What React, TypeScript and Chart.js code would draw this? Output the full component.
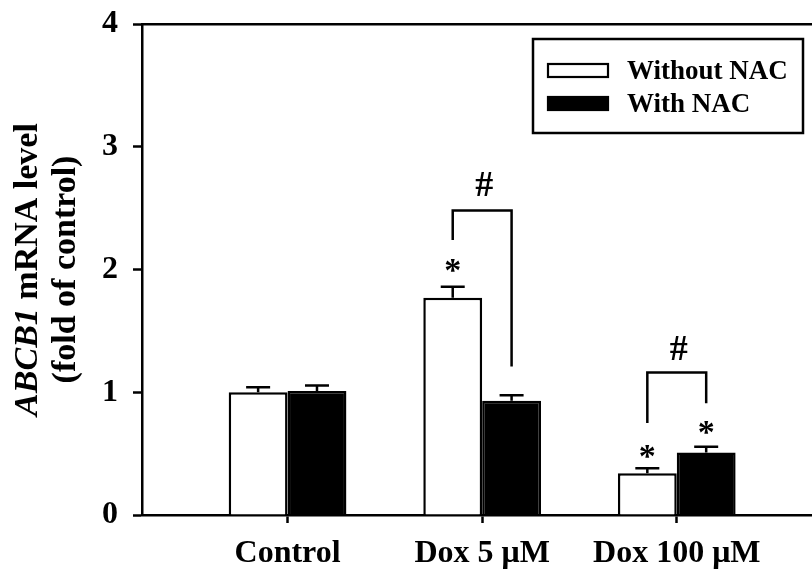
import React, { useEffect, useRef } from 'react';
import { Chart, registerables } from 'chart.js';

Chart.register(...registerables);

const categories = ['Control', 'Dox 5 μM', 'Dox 100 μM'];
const seriesLabels = ['Without NAC', 'With NAC'];
const withoutNAC = [1.0, 1.77, 0.34];
const withoutNACErr = [0.04, 0.09, 0.04];
const withNAC = [1.01, 0.93, 0.51];
const withNACErr = [0.045, 0.045, 0.045];
const yTicks = [0, 1, 2, 3, 4];
const yMin = 0;
const yMax = 4;
const yTitleItalic = 'ABCB1';
const yTitleRest = ' mRNA level';
const yTitleLine2 = '(fold of control)';

// significance marks: "*" vs control
const starSeries = [0, 0, 1];
const starCategory = [1, 2, 2];
const starY = [2.02, 0.5, 0.7];
// "#" brackets between Without and With NAC
const bracketCategory = [1, 2];
const bracketLeftBottom = [2.24, 0.75];
const bracketTop = [2.48, 1.16];
const bracketRightBottom = [1.21, 0.91];
const hashY = [2.675, 1.34];

const FONT = '"Liberation Serif", "Times New Roman", serif';

const annotationsPlugin = {
  id: 'annotations',
  afterDatasetsDraw(chart: any) {
    const ctx = chart.ctx;
    const y = chart.scales.y;
    const area = chart.chartArea;
    const metas = [chart.getDatasetMeta(0), chart.getDatasetMeta(1)];
    const errs = [withoutNACErr, withNACErr];
    const vals = [withoutNAC, withNAC];
    ctx.save();
    ctx.strokeStyle = '#000';
    ctx.fillStyle = '#000';
    ctx.lineWidth = 2.5;
    ctx.lineCap = 'butt';
    // error bars (upper only)
    for (let s = 0; s < 2; s++) {
      metas[s].data.forEach((bar: any, j: number) => {
        const top = y.getPixelForValue(vals[s][j] + errs[s][j]);
        ctx.beginPath();
        ctx.moveTo(bar.x, bar.y);
        ctx.lineTo(bar.x, top);
        ctx.moveTo(bar.x - 12, top);
        ctx.lineTo(bar.x + 12, top);
        ctx.stroke();
      });
    }
    // stars
    ctx.font = `bold 34px ${FONT}`;
    ctx.textAlign = 'center';
    ctx.textBaseline = 'middle';
    starY.forEach((v, k) => {
      const bar = metas[starSeries[k]].data[starCategory[k]];
      ctx.fillText('*', bar.x, y.getPixelForValue(v) + 5);
    });
    // brackets
    bracketCategory.forEach((c, k) => {
      const xl = metas[0].data[c].x;
      const xr = metas[1].data[c].x;
      ctx.beginPath();
      ctx.moveTo(xl, y.getPixelForValue(bracketLeftBottom[k]));
      ctx.lineTo(xl, y.getPixelForValue(bracketTop[k]));
      ctx.lineTo(xr, y.getPixelForValue(bracketTop[k]));
      ctx.lineTo(xr, y.getPixelForValue(bracketRightBottom[k]));
      ctx.stroke();
      ctx.font = `bold 36px ${FONT}`;
      ctx.fillText('#', (xl + xr) / 2 + 2, y.getPixelForValue(hashY[k]));
    });
    // legend box
    const lx = area.right - 279;
    const ly = area.top + 15;
    ctx.lineWidth = 2.5;
    ctx.strokeRect(lx, ly, 270, 94);
    const colors = ['#ffffff', '#000000'];
    const rowsY = [ly + 31, ly + 64];
    seriesLabels.forEach((lab, k) => {
      const sy = rowsY[k] - 7;
      ctx.fillStyle = colors[k];
      ctx.fillRect(lx + 14, sy, 62, 15);
      ctx.lineWidth = 2.2;
      ctx.strokeRect(lx + 15, sy + 1, 60, 13);
      ctx.fillStyle = '#000';
      ctx.font = `bold 27px ${FONT}`;
      ctx.textAlign = 'left';
      ctx.textBaseline = 'alphabetic';
      ctx.fillText(lab, lx + 94, rowsY[k] + 9);
    });
    // y title
    const cy = (area.top + area.bottom) / 2;
    ctx.font = `italic bold 34px ${FONT}`;
    const w1 = ctx.measureText(yTitleItalic).width;
    ctx.font = `bold 34px ${FONT}`;
    const w2 = ctx.measureText(yTitleRest).width;
    const total = w1 + w2;
    ctx.save();
    ctx.translate(37, cy);
    ctx.rotate(-Math.PI / 2);
    ctx.textAlign = 'left';
    ctx.textBaseline = 'alphabetic';
    ctx.font = `italic bold 34px ${FONT}`;
    ctx.fillText(yTitleItalic, -total / 2, 0);
    ctx.font = `bold 34px ${FONT}`;
    ctx.fillText(yTitleRest, -total / 2 + w1, 0);
    ctx.restore();
    ctx.save();
    ctx.translate(75, cy);
    ctx.rotate(-Math.PI / 2);
    ctx.textAlign = 'center';
    ctx.textBaseline = 'alphabetic';
    ctx.font = `bold 34px ${FONT}`;
    ctx.fillText(yTitleLine2, 0, 0);
    ctx.restore();
    ctx.restore();
  },
};

export default function App() {
  const canvasRef = useRef<HTMLCanvasElement | null>(null);

  useEffect(() => {
    if (!canvasRef.current) return;
    const xMin = -0.748;
    const xMax = 2.695;
    const chart = new Chart(canvasRef.current, {
      type: 'bar',
      data: {
        datasets: [
          {
            label: seriesLabels[0],
            data: withoutNAC.map((v, i) => ({ x: i, y: v })),
            backgroundColor: '#ffffff',
            borderColor: '#000000',
            borderWidth: 2.5,
            categoryPercentage: 0.605,
            barPercentage: 1.0,
          },
          {
            label: seriesLabels[1],
            data: withNAC.map((v, i) => ({ x: i, y: v })),
            backgroundColor: '#000000',
            borderColor: '#000000',
            borderWidth: 2.5,
            categoryPercentage: 0.605,
            barPercentage: 1.0,
          },
        ],
      },
      options: {
        animation: false,
        responsive: false,
        maintainAspectRatio: false,
        events: [],
        layout: { padding: 0 },
        plugins: { legend: { display: false }, tooltip: { enabled: false } },
        scales: {
          x: {
            type: 'linear',
            position: 'bottom',
            min: xMin,
            max: xMax,
            offset: false,
            afterBuildTicks: (s: any) => {
              s.ticks = categories.map((_, i) => ({ value: i }));
            },
            afterFit: (s: any) => {
              s.height = 57;
            },
            ticks: {
              callback: (v: any) => categories[v] ?? '',
              font: { family: FONT, size: 32, weight: 'bold' },
              color: '#000',
              padding: 12,
              maxRotation: 0,
              autoSkip: false,
            },
            grid: {
              offset: false,
              drawOnChartArea: false,
              tickLength: 8,
              tickWidth: 2.5,
              color: '#000',
            },
            border: { display: true, color: '#000', width: 2.5 },
          },
          xTop: {
            type: 'linear',
            position: 'top',
            min: xMin,
            max: xMax,
            offset: false,
            afterFit: (s: any) => {
              s.height = 24;
            },
            ticks: { display: false },
            grid: { offset: false, drawOnChartArea: false, drawTicks: false, color: '#000' },
            border: { display: true, color: '#000', width: 2.5 },
          },
          y: {
            type: 'linear',
            min: yMin,
            max: yMax,
            afterBuildTicks: (s: any) => {
              s.ticks = yTicks.map((v) => ({ value: v }));
            },
            afterFit: (s: any) => {
              s.width = 142;
              s.paddingTop = 0;
              s.paddingBottom = 0;
            },
            ticks: {
              font: { family: FONT, size: 32, weight: 'bold' },
              color: '#000',
              padding: 15,
            },
            grid: {
              drawOnChartArea: false,
              tickLength: 9,
              tickWidth: 2.5,
              color: '#000',
            },
            border: { display: true, color: '#000', width: 2.5 },
          },
        },
      } as any,
      plugins: [annotationsPlugin],
    });
    return () => chart.destroy();
  }, []);

  return (
    <div style={{ position: 'absolute', left: 0, top: 0, width: 812, height: 572, background: '#fff' }}>
      <canvas ref={canvasRef} width={812} height={572} style={{ display: 'block' }} />
    </div>
  );
}
